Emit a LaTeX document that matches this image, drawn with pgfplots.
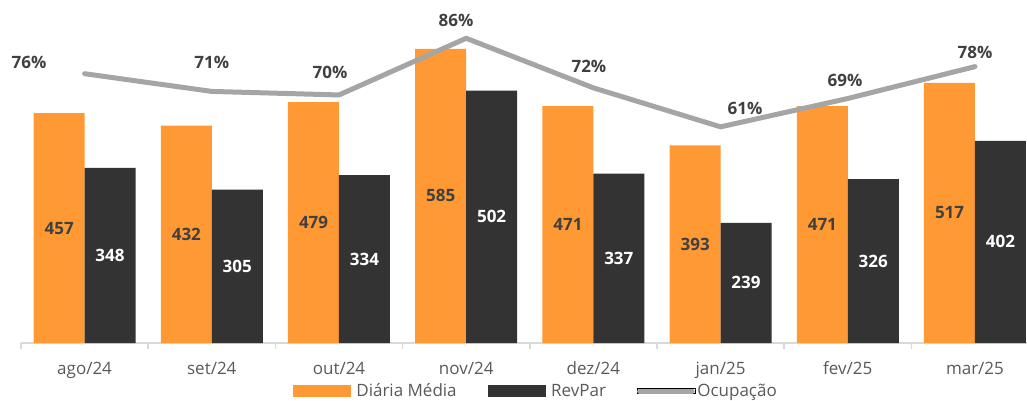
\documentclass[border=0pt]{standalone}
\usepackage{fontspec}
\setmainfont{Open Sans}
\usepackage{pgfplots}
\pgfplotsset{compat=1.18}
\usepackage{pgfplotstable}
\definecolor{orangeC}{HTML}{FF9933}
\definecolor{darkC}{HTML}{333333}
\definecolor{lineC}{HTML}{A5A5A5}
\definecolor{lblC}{HTML}{404040}
\definecolor{tickC}{HTML}{595959}
\definecolor{axC}{HTML}{D9D9D9}

\pgfplotstableread{
i d r o
0 457 348 76
1 432 305 71
2 479 334 70
3 585 502 86
4 471 337 72
5 393 239 61
6 471 326 69
7 517 402 78
}\data

\begin{document}
\begin{tikzpicture}[x=1pt,y=1pt]
\path[use as bounding box] (0,0) rectangle (1027,400);
\pgfplotsset{base/.style={scale only axis, width=1017.6pt, height=343pt,
  xmin=-0.5, xmax=7.5, at={(21pt,57pt)}, anchor=south west, clip=false}}
\begin{axis}[base, ymin=0, ymax=682,
  axis x line*=bottom, axis y line=none,
  xtick={0,...,7},
  xticklabels={ago/24,set/24,out/24,nov/24,dez/24,jan/25,fev/25,mar/25},
  minor xtick={-0.5,0.5,...,7.5},
  tick align=outside, major tick length=0pt, minor tick length=6pt,
  x axis line style={draw=axC, line width=1.5pt, -},
  tick style={draw=axC, line width=1.5pt},
  xticklabel style={font=\fontsize{17}{20}\selectfont, text=tickC, anchor=base, yshift=-31pt},
]
\addplot[ybar, bar width=51pt, bar shift=-25.5pt, fill=orangeC, draw=none] table[x=i,y=d]{\data};
\addplot[ybar, bar width=51pt, bar shift=25.5pt, fill=darkC, draw=none] table[x=i,y=r]{\data};
\addplot[draw=none, mark=none, nodes near coords, point meta=explicit symbolic,
  every node near coord/.style={anchor=center, text=lblC, font=\bfseries\fontsize{17}{20}\selectfont}]
  table[x expr=\thisrow{i}-0.2, y expr=\thisrow{d}/2, meta=d]{\data};
\addplot[draw=none, mark=none, nodes near coords, point meta=explicit symbolic,
  every node near coord/.style={anchor=center, text=white, font=\bfseries\fontsize{17}{20}\selectfont}]
  table[x expr=\thisrow{i}+0.2, y expr=\thisrow{r}/2, meta=r]{\data};
\end{axis}
\begin{axis}[base, ymin=0, ymax=96.8, hide axis,
  legend columns=-1,
  legend style={at={(0.506,-0.14)}, anchor=center, draw=none, fill=none,
    font=\fontsize{17}{20}\selectfont, text=tickC,
    /tikz/every even column/.append style={column sep=29pt}},
  legend entries={Diária Média, RevPar, Ocupação},
]
\addlegendimage{legend image code/.code={\fill[orangeC] (0pt,-5.5pt) rectangle (57pt,5.5pt); \path (61pt,0pt);}}
\addlegendimage{legend image code/.code={\fill[darkC] (0pt,-5.5pt) rectangle (57pt,5.5pt); \path (61pt,0pt);}}
\addlegendimage{legend image code/.code={\path (0pt,-2.5pt) rectangle (58pt,2.5pt); \draw[overlay, lineC, line width=5pt, line cap=round] (2.5pt,0pt) -- (55pt,0pt);}}
\addplot[forget plot, lineC, line width=5pt, line cap=round, line join=round, mark=none] table[x=i,y=o]{\data};
\tikzset{pct/.style={text=lblC, font=\bfseries\fontsize{17}{20}\selectfont}}
\node[pct] at (axis cs:-0.437,79.3) {76\%};
\node[pct] at (axis cs:1.0,79.3) {71\%};
\node[pct] at (axis cs:1.929,76.4) {70\%};
\node[pct] at (axis cs:2.92,91.1) {86\%};
\node[pct] at (axis cs:3.965,78.1) {72\%};
\node[pct] at (axis cs:5.192,66.3) {61\%};
\node[pct] at (axis cs:5.978,74.2) {69\%};
\node[pct] at (axis cs:7.0,82.1) {78\%};
\end{axis}
\end{tikzpicture}
\end{document}
